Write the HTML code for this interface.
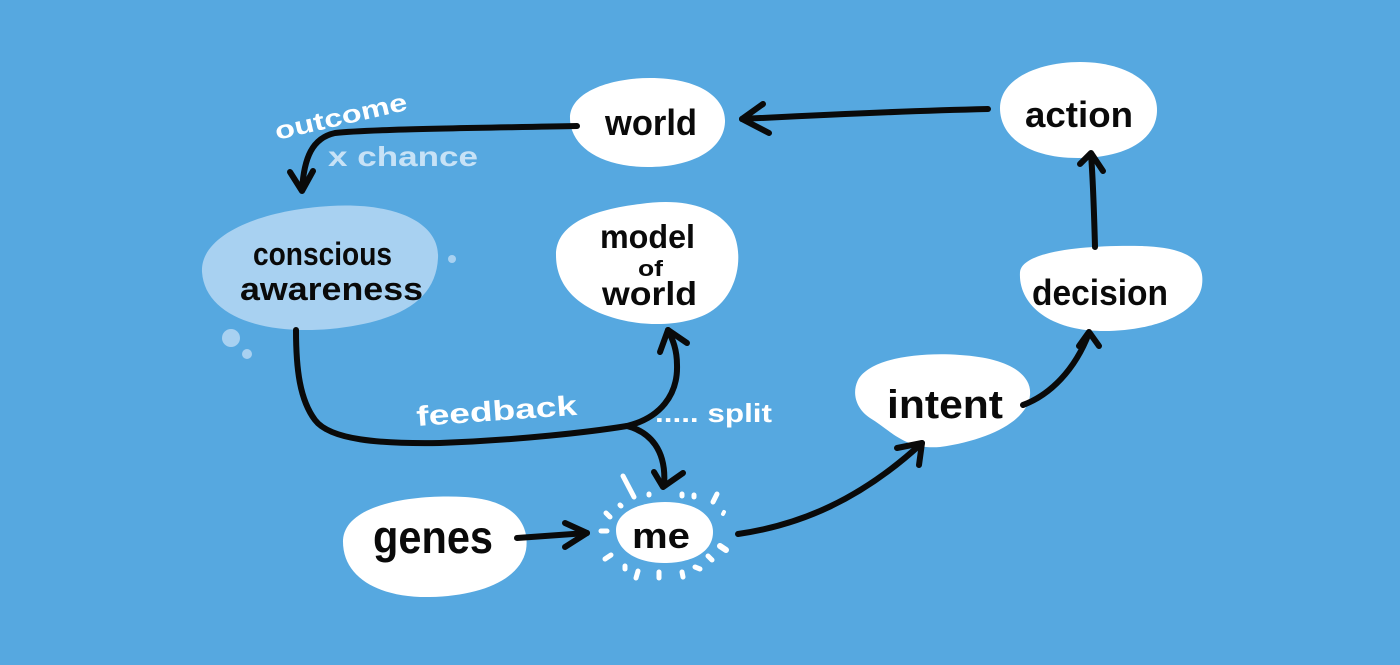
<!DOCTYPE html>
<html>
<head>
<meta charset="utf-8">
<style>
  html,body{margin:0;padding:0;background:#56a8e0;}
  svg{display:block;}
  text{font-family:"Liberation Sans","DejaVu Sans",sans-serif;font-weight:bold;}
</style>
</head>
<body>
<svg width="1400" height="665" viewBox="0 0 1400 665" xmlns="http://www.w3.org/2000/svg">
  <rect x="0" y="0" width="1400" height="665" fill="#56a8e0"/>

  <!-- blobs -->
  <!-- world -->
  <path d="M570 118 C570 92, 610 78, 650 78 C700 78, 726 98, 725 122 C724 148, 695 167, 648 167 C600 167, 570 146, 570 118 Z" fill="#ffffff"/>
  <!-- action -->
  <path d="M1000 108 C1000 78, 1040 62, 1080 62 C1125 62, 1157 82, 1157 110 C1157 140, 1125 158, 1078 158 C1030 158, 1000 138, 1000 108 Z" fill="#ffffff"/>
  <!-- conscious awareness -->
  <path d="M202 272 C200 235, 260 210, 330 206 C400 202, 440 225, 438 258 C436 300, 400 322, 330 329 C260 335, 205 315, 202 272 Z" fill="#a8d1f1"/>
  <!-- model of world -->
  <path d="M556 255 C556 225, 590 210, 640 204 C680 198, 715 205, 732 230 C745 255, 738 295, 710 312 C685 327, 640 328, 605 315 C570 302, 556 280, 556 255 Z" fill="#ffffff"/>
  <!-- decision -->
  <path d="M1020 272 C1022 252, 1080 245, 1140 246 C1190 247, 1205 262, 1202 285 C1198 315, 1150 332, 1100 331 C1050 330, 1018 305, 1020 272 Z" fill="#ffffff"/>
  <!-- intent -->
  <path d="M858 380 C870 358, 920 352, 960 355 C1010 358, 1032 375, 1030 395 C1028 420, 990 440, 940 447 C905 450, 890 430, 870 418 C855 408, 852 392, 858 380 Z" fill="#ffffff"/>
  <!-- genes -->
  <path d="M343 540 C345 505, 410 494, 465 497 C515 500, 530 525, 526 550 C520 580, 480 596, 430 597 C380 598, 342 578, 343 540 Z" fill="#ffffff"/>
  <!-- me -->
  <path d="M616 530 C616 512, 640 502, 665 502 C695 502, 713 515, 713 532 C713 552, 692 563, 664 563 C636 563, 616 550, 616 530 Z" fill="#ffffff"/>

  <!-- small dots -->
  <circle cx="452" cy="259" r="4" fill="#a8d1f1"/>
  <circle cx="231" cy="338" r="9" fill="#a8d1f1"/>
  <circle cx="247" cy="354" r="5" fill="#a8d1f1"/>

  <!-- me rays -->
  <g stroke="#ffffff" stroke-linecap="round" fill="none">
    <line x1="623" y1="476" x2="634" y2="497" stroke-width="5"/>
    <line x1="649" y1="494" x2="649" y2="495" stroke-width="5"/>
    <line x1="682" y1="494" x2="682" y2="496" stroke-width="5"/>
    <line x1="694" y1="495" x2="694" y2="497" stroke-width="5"/>
    <line x1="717" y1="494" x2="713" y2="502" stroke-width="5"/>
    <line x1="724" y1="512" x2="723" y2="514" stroke-width="4"/>
    <line x1="720" y1="546" x2="726" y2="550" stroke-width="6"/>
    <line x1="708" y1="556" x2="712" y2="560" stroke-width="5"/>
    <line x1="695" y1="567" x2="700" y2="569" stroke-width="5"/>
    <line x1="682" y1="572" x2="683" y2="577" stroke-width="5"/>
    <line x1="659" y1="572" x2="659" y2="578" stroke-width="5"/>
    <line x1="638" y1="571" x2="636" y2="578" stroke-width="5"/>
    <line x1="625" y1="566" x2="625" y2="569" stroke-width="5"/>
    <line x1="605" y1="559" x2="611" y2="555" stroke-width="5"/>
    <line x1="601" y1="531" x2="607" y2="531" stroke-width="5"/>
    <line x1="606" y1="513" x2="610" y2="517" stroke-width="5"/>
    <line x1="620" y1="505" x2="621" y2="506" stroke-width="5"/>
  </g>

  <!-- connectors -->
  <g stroke="#0a0a0a" stroke-width="6" stroke-linecap="round" stroke-linejoin="round" fill="none">
    <!-- action -> world -->
    <path d="M988 109 C900 111, 800 116, 742 119"/>
    <path d="M763 104 L742 119 L769 133"/>
    <!-- world -> conscious -->
    <path d="M577 126 C480 128, 370 129, 335 133 C312 138, 304 158, 302 190"/>
    <path d="M290 172 L302 191 L313 171"/>
    <!-- conscious -> model (feedback) -->
    <path d="M296 330 C296 370, 300 400, 315 420 C330 440, 380 444, 440 443 C520 440, 590 432, 627 426 C660 418, 678 395, 677 365 C677 350, 673 340, 668 330"/>
    <path d="M660 352 L668 330 L687 343"/>
    <!-- split -> me -->
    <path d="M627 426 C650 432, 667 450, 664 486"/>
    <path d="M654 472 L663 487 L683 473"/>
    <!-- genes -> me -->
    <path d="M517 538 L587 533"/>
    <path d="M565 523 L587 533 L565 547"/>
    <!-- me -> intent -->
    <path d="M738 534 C800 525, 860 500, 922 443"/>
    <path d="M897 448 L922 443 L919 465"/>
    <!-- intent -> decision -->
    <path d="M1023 405 C1050 395, 1075 370, 1089 333"/>
    <path d="M1079 346 L1089 332 L1099 346"/>
    <!-- decision -> action -->
    <path d="M1095 247 C1094 210, 1093 180, 1091 154"/>
    <path d="M1080 164 L1091 153 L1103 171"/>
  </g>

  <!-- node labels -->
  <g fill="#0a0a0a">
    <text x="605" y="135" font-size="36" textLength="92" lengthAdjust="spacingAndGlyphs">world</text>
    <text x="1025" y="127" font-size="36" textLength="108" lengthAdjust="spacingAndGlyphs">action</text>
    <text x="253" y="265" font-size="32" textLength="139" lengthAdjust="spacingAndGlyphs">conscious</text>
    <text x="240" y="300" font-size="32" textLength="183" lengthAdjust="spacingAndGlyphs">awareness</text>
    <text x="600" y="248" font-size="33" textLength="95" lengthAdjust="spacingAndGlyphs">model</text>
    <text x="638" y="276" font-size="22" textLength="25" lengthAdjust="spacingAndGlyphs">of</text>
    <text x="602" y="305" font-size="33" textLength="95" lengthAdjust="spacingAndGlyphs">world</text>
    <text x="1032" y="305" font-size="36" textLength="136" lengthAdjust="spacingAndGlyphs">decision</text>
    <text x="887" y="418" font-size="40" textLength="116" lengthAdjust="spacingAndGlyphs">intent</text>
    <text x="373" y="553" font-size="46" textLength="120" lengthAdjust="spacingAndGlyphs">genes</text>
    <text x="632" y="548" font-size="36" textLength="58" lengthAdjust="spacingAndGlyphs">me</text>
  </g>

  <!-- connector labels -->
  <text x="0" y="0" font-size="25" fill="#ffffff" textLength="135" lengthAdjust="spacingAndGlyphs" transform="translate(277,140) rotate(-13)">outcome</text>
  <text x="328" y="166" font-size="28" fill="#c7e2f6" textLength="150" lengthAdjust="spacingAndGlyphs">x chance</text>
  <text x="0" y="0" font-size="28" fill="#ffffff" textLength="161" lengthAdjust="spacingAndGlyphs" transform="translate(417,426) rotate(-4)">feedback</text>
  <text x="655" y="422" font-size="26" fill="#ffffff" textLength="117" lengthAdjust="spacingAndGlyphs">..... split</text>
</svg>
</body>
</html>
